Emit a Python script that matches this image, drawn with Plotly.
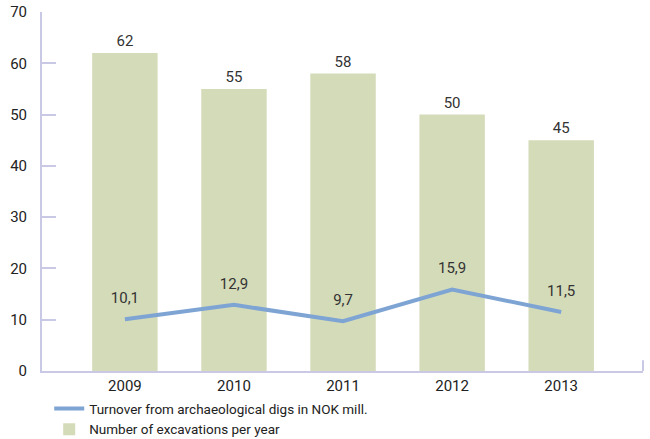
import plotly.graph_objects as go

years = ["2009", "2010", "2011", "2012", "2013"]
excavations = [62, 55, 58, 50, 45]
turnover = [10.1, 12.9, 9.7, 15.9, 11.5]
y_ticks = [0, 10, 20, 30, 40, 50, 60, 70]

axis_color = "#c9c9e6"
font_family = "Roboto, 'DejaVu Sans', sans-serif"


def comma(v):
    return f"{v:g}".replace(".", ",")


fig = go.Figure()

fig.add_trace(go.Bar(
    x=years,
    y=excavations,
    name="Number of excavations per year",
    marker=dict(color="#d4dbb9", line=dict(width=0)),
    width=0.6,
    text=[comma(v) for v in excavations],
    textposition="outside",
    textfont=dict(size=15, color="#333333", family=font_family),
    cliponaxis=False,
))

fig.add_trace(go.Scatter(
    x=years,
    y=turnover,
    name="Turnover from archaeological digs in NOK mill.",
    mode="lines+markers+text",
    line=dict(color="#7ea4d4", width=4),
    marker=dict(size=18, color="rgba(0,0,0,0)"),
    text=[comma(v) for v in turnover],
    textposition="top center",
    textfont=dict(size=15, color="#333333", family=font_family),
    cliponaxis=False,
))

fig.update_layout(
    width=650,
    height=439,
    margin=dict(l=42, r=7, t=12, b=68, autoexpand=False),
    paper_bgcolor="white",
    plot_bgcolor="white",
    font=dict(family=font_family, size=15, color="#222222"),
    bargap=0.4,
    showlegend=True,
    legend=dict(
        x=0.012,
        y=0.104,
        yref="container",
        xanchor="left",
        yanchor="top",
        traceorder="reversed",
        font=dict(size=13.5, color="#222222"),
        itemwidth=30,
        tracegroupgap=0,
        bgcolor="rgba(0,0,0,0)",
    ),
    xaxis=dict(
        type="category",
        range=[-0.76, 4.75],
        showline=True,
        linecolor=axis_color,
        linewidth=2,
        showgrid=False,
        ticks="",
        tickfont=dict(size=15, color="#222222"),
        zeroline=False,
    ),
    yaxis=dict(
        range=[0, 70],
        tickvals=y_ticks,
        showline=True,
        linecolor=axis_color,
        linewidth=2,
        showgrid=False,
        ticks="inside",
        ticklen=14,
        tickwidth=2,
        tickcolor=axis_color,
        tickfont=dict(size=15, color="#222222"),
        ticklabelstandoff=10,
        zeroline=False,
    ),
    shapes=[dict(
        type="line", xref="paper", yref="paper",
        x0=1, x1=1, y0=0, y1=0.03,
        line=dict(color=axis_color, width=2),
    )],
)

fig.write_html("out.html")
